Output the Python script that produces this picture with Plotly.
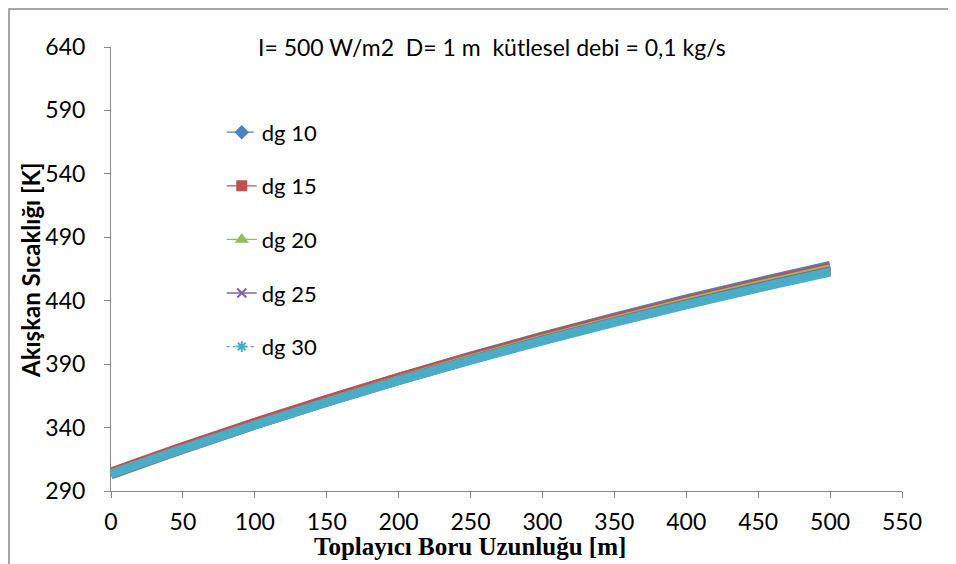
import plotly.graph_objects as go

# Data
x_m = [0, 50, 100, 150, 200, 250, 300, 350, 400, 450, 500]
dg10 = [304.0, 324.4, 343.8, 362.2, 379.7, 396.3, 412.1, 427.1, 441.4, 454.9, 467.8]
dg15 = [305.0, 325.1, 344.2, 362.3, 379.6, 395.9, 411.5, 426.3, 440.4, 453.7, 466.4]
dg20 = [302.5, 322.7, 342.0, 360.2, 377.6, 394.1, 409.7, 424.6, 438.8, 452.2, 465.0]
dg25 = [303.0, 323.0, 342.0, 360.0, 377.2, 393.4, 408.9, 423.6, 437.6, 450.9, 463.5]
dg30 = [303.5, 323.3, 342.1, 360.0, 377.0, 393.1, 408.4, 423.0, 436.8, 450.0, 462.5]

names = ["dg 10", "dg 15", "dg 20", "dg 25", "dg 30"]
series = [dg10, dg15, dg20, dg25, dg30]
colors = ["#4F81BD", "#C0504D", "#9BBB59", "#8064A2", "#4BACC6"]
symbols = ["diamond", "square", "triangle-up", "x-thin", "asterisk"]
dashes = ["dash", "solid", "solid", "solid", "dot"]

x_ticks = [0, 50, 100, 150, 200, 250, 300, 350, 400, 450, 500, 550]
y_ticks = [290, 340, 390, 440, 490, 540, 590, 640]

fig = go.Figure()

for name, ys, c in zip(names, series, colors):
    fig.add_trace(go.Scatter(
        x=x_m, y=ys, mode="lines", name=name, showlegend=False,
        line=dict(color=c, width=9, shape="spline"), legendgroup=name,
    ))

for name, c, s, d in zip(names, colors, symbols, dashes):
    fig.add_trace(go.Scatter(
        x=[None], y=[None], mode="lines+markers", name=name, legendgroup=name,
        line=dict(color=c, width=1.3, dash=d),
        marker=dict(symbol=s, size=9, color=c, line=dict(color=c, width=2)),
    ))

tick_font = dict(family="Lato, Open Sans, sans-serif", size=23, color="#000000")
axis_common = dict(
    showgrid=False, zeroline=False, showline=True, linecolor="#868686", linewidth=1,
    ticks="outside", ticklen=6, tickcolor="#868686", tickfont=tick_font,
)

# page body has an 8px margin, so the figure is sized/offset accordingly
fig.update_layout(
    width=948, height=556,
    margin=dict(l=103, r=54, t=39, b=73),
    paper_bgcolor="white", plot_bgcolor="white",
    xaxis=dict(range=[0, 550], tickvals=x_ticks, ticklabelstandoff=4, **axis_common),
    yaxis=dict(range=[290, 640], tickvals=y_ticks, ticklabelstandoff=14, **axis_common),
    legend=dict(
        x=0.140, y=0.855, xanchor="left", yanchor="top",
        font=dict(family="Lato, Open Sans, sans-serif", size=22, color="#000000"),
        bgcolor="rgba(0,0,0,0)", tracegroupgap=22,
    ),
    showlegend=True,
)

fig.add_annotation(
    text="I= 500 W/m2  D= 1 m  kütlesel debi = 0,1 kg/s",
    xref="paper", yref="paper", x=(492 - 111) / 791, y=(491 - 47) / 444,
    xanchor="center", yanchor="middle", showarrow=False,
    font=dict(family="Lato, Open Sans, sans-serif", size=23, color="#000000"),
)
fig.add_annotation(
    text="<b>Akışkan Sıcaklığı [K]</b>",
    xref="paper", yref="paper", x=(30 - 111) / 791, y=(491 - 270) / 444, textangle=-90,
    xanchor="center", yanchor="middle", showarrow=False,
    font=dict(family="Lato, Open Sans, sans-serif", size=24, color="#000000"),
)
fig.add_annotation(
    text="<b>Toplayıcı Boru Uzunluğu [m]</b>",
    xref="paper", yref="paper", x=(470 - 111) / 791, y=(491 - 546) / 444,
    xanchor="center", yanchor="middle", showarrow=False,
    font=dict(family="Liberation Serif, DejaVu Serif, serif", size=25, color="#000000"),
)
fig.add_shape(
    type="rect", xref="paper", yref="paper",
    x0=(9 - 111) / 791, x1=(950 - 111) / 791, y0=(491 - 580) / 444, y1=(491 - 9) / 444,
    line=dict(color="#898989", width=1.5), fillcolor="rgba(0,0,0,0)", layer="below",
)

fig.write_html("out.html")
